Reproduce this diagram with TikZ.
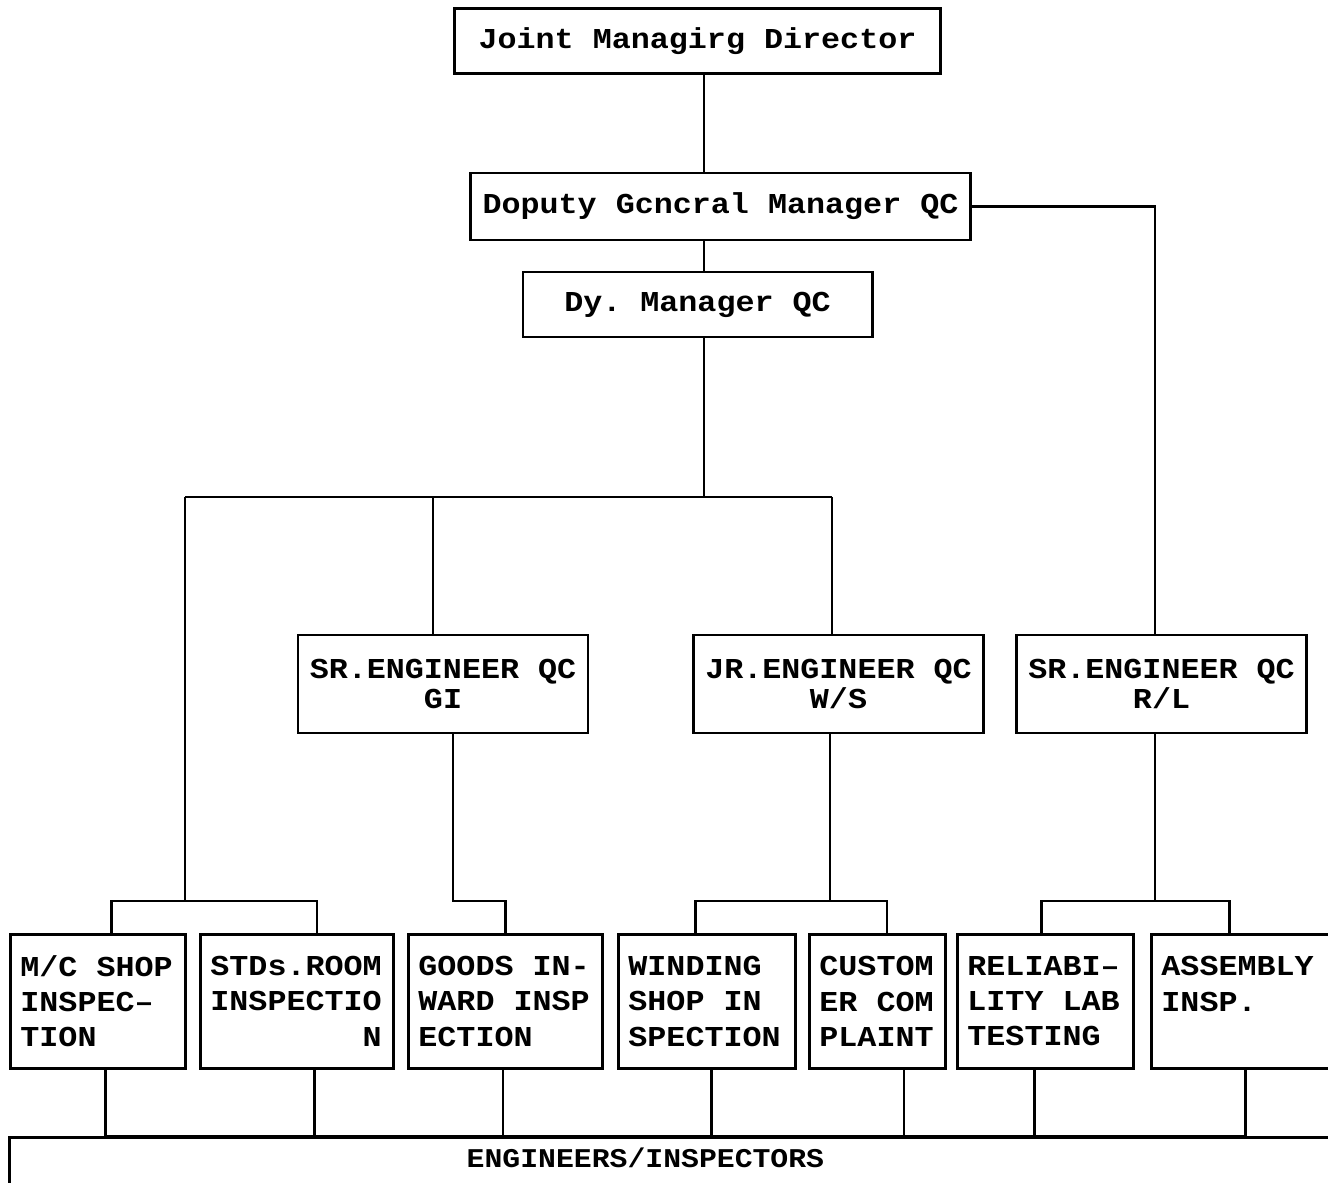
\documentclass[tikz,border=0pt]{standalone}
\usepackage{fontspec}
\newfontfamily\orgmono[FakeStretch=1.1, WordSpace={1,0,0}]{Liberation Mono}
\usepackage{tikz}

\begin{document}
\begin{tikzpicture}[
    x=0.01cm, y=-0.01cm, thick,
    every node/.style={font=\orgmono\bfseries\frenchspacing\fontsize{8.2}{10}\selectfont},
    topbox/.style={draw, minimum height=0.65cm, align=center},
    midbox/.style={draw, minimum height=0.98cm, align=center, font=\orgmono\bfseries\fontsize{8.2}{8.5}\selectfont},
    lowbox/.style={draw, anchor=north west, minimum height=1.34cm, inner xsep=0.1cm, align=flush left},
    engbox/.style={draw, anchor=north west, text width=13.6cm, inner xsep=0.1cm, inner ysep=0.1cm, text depth=0.5cm, align=flush left, font=\orgmono\bfseries\fontsize{7.7}{9}\selectfont}
]
\useasboundingbox (0,0) rectangle (1328,1183);

% Management
\node[topbox, minimum width=4.85cm] (jmd) at (697.5,41) {Joint Managirg Director};
\node[topbox, minimum width=4.95cm, minimum height=0.67cm] (dgm) at (720.5,206.5) {Doputy Gcncral Manager QC};
\node[topbox, minimum width=3.49cm] (dym) at (697.5,304.5) {Dy. Manager QC};

% Engineers
\node[midbox, minimum width=2.80cm] (sgi) at (443,684) {SR.ENGINEER QC\\GI};
\node[midbox, minimum width=2.83cm] (jrw) at (838.5,684) {JR.ENGINEER QC\\W/S};
\node[midbox, minimum width=2.87cm] (srl) at (1161.5,684) {SR.ENGINEER QC\\R/L};

% Sections
\node[lowbox, text width=1.55cm] (mcs) at (9,933) {M/C SHOP\\INSPEC\textendash\\TION};
\node[lowbox, text width=1.73cm] (std) at (199,933) {STDs.ROOM\\INSPECTIO\\\phantom{INSPECTI}N};
\node[lowbox, text width=1.74cm] (gds) at (407,933) {GOODS IN-\\WARD INSP\\ECTION};
\node[lowbox, text width=1.57cm] (win) at (617,933) {WINDING\\SHOP IN\\SPECTION};
\node[lowbox, text width=1.16cm] (cst) at (808,933) {CUSTOM\\ER COM\\PLAINT};
\node[lowbox, text width=1.56cm] (rel) at (956,933) {RELIABI\textendash\\LITY LAB\\TESTING};
\node[lowbox, text width=2.00cm] (asm) at (1150,933) {ASSEMBLY\\INSP.\\~};

\node[engbox] (eng) at (8,1136) {\hspace*{4.47cm}ENGINEERS/INSPECTORS};

% Spine and bus
\coordinate (spine) at (704,0);
\coordinate (busL) at (185,497);
\coordinate (busG) at (433,497);
\coordinate (busR) at (832,497);
\draw (jmd.south -| spine) -- (dgm.north -| spine);
\draw (dgm.south -| spine) -- (dym.north -| spine);
\draw (dym.south -| spine) -- (spine |- busL);
\draw (busL) -- (busR);
\draw (busG) -- (busG |- sgi.north);
\draw (busR) -- (busR |- jrw.north);

% Brackets
\coordinate (brA) at (185,901);
\coordinate (brB) at (503,901);
\coordinate (brC) at (830,901);
\coordinate (brD) at (1155,901);
\draw (busL) -- (brA);
\draw ([xshift=0.135cm]mcs.north) |- (brA) -| ([xshift=0.2cm]std.north);
\draw ([xshift=0.1cm]sgi.south) |- (gds.north |- brB) -- (gds.north);
\draw (jrw.south -| brC) -- (brC);
\draw ([xshift=-0.115cm]win.north) |- (brC) -| ([xshift=0.095cm]cst.north);
\draw (dgm.east) -| (srl.north -| brD);
\draw (srl.south -| brD) -- (brD);
\draw ([xshift=-0.04cm]rel.north) |- (brD) -| ([xshift=-0.32cm]asm.north);

% Down to engineers/inspectors
\foreach \n/\s in {mcs/0.075, std/0.175, gds/-0.025, win/0.045, cst/0.265, rel/-0.11, asm/-0.16}
    \draw ([xshift=\s cm]\n.south) |- (eng.north);

\end{tikzpicture}
\end{document}
